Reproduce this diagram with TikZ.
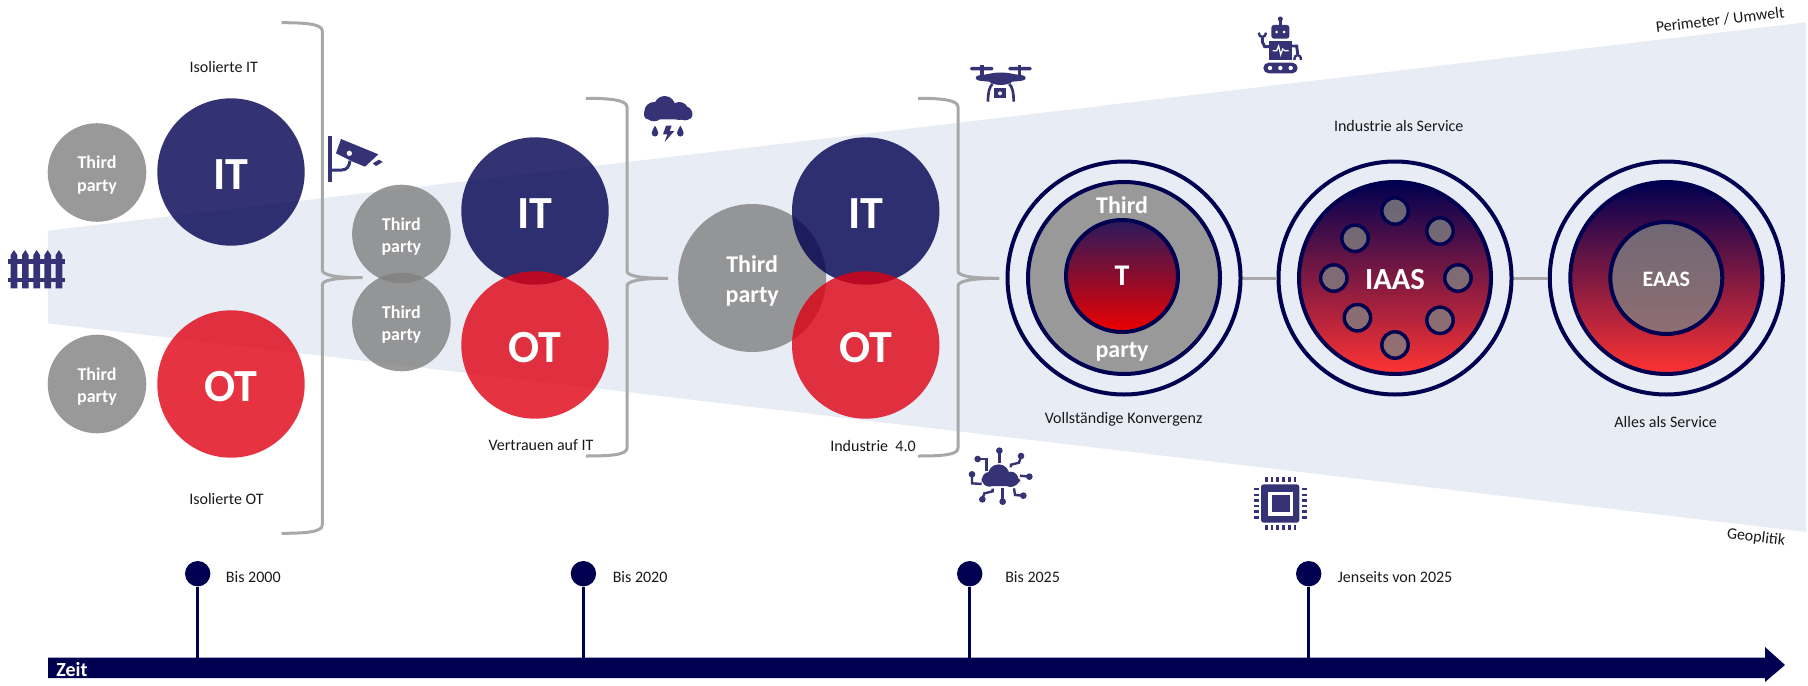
\documentclass[tikz,border=0pt]{standalone}
\usepackage{fontspec}
\setmainfont{Carlito}
\definecolor{navy}{HTML}{000050}
\definecolor{ink}{HTML}{353375}
\definecolor{itc}{HTML}{000050}
\definecolor{otc}{HTML}{DE0011}
\definecolor{tpc}{HTML}{808080}
\definecolor{wedgec}{HTML}{E8ECF5}
\definecolor{brc}{HTML}{A8A8A8}
\definecolor{gtop}{HTML}{2A1A5C}
\definecolor{gmid}{HTML}{8A0D2D}
\definecolor{gbot}{HTML}{EE0000}
\newcommand{\fs}[2]{\fontsize{#1}{#2}\selectfont}
\newcommand{\lowered}[2]{\raisebox{-#1}[\height][\depth]{#2}}
\newcommand{\twolines}[1]{\lowered{#1}{\begin{tabular}{@{}c@{}}Third\\party\end{tabular}}}
\tikzset{
  circ/.style={circle,inner sep=0pt,minimum size=2*#1*0.75pt},
  tp/.style={circ=49.3,fill=tpc,fill opacity=.8,text opacity=1,text=white,font=\bfseries\fs{13.5}{17.2}},
  itn/.style={circ=73.7,fill=itc,fill opacity=.8,text opacity=1,text=white,font=\bfseries\fs{34.5}{36}},
  otn/.style={circ=73.7,fill=otc,fill opacity=.8,text opacity=1,text=white,font=\bfseries\fs{34.5}{36}},
  ringo/.style={circ=116.5,draw=navy,line width=3pt},
  ringi/.style={circ=96,draw=navy,line width=3pt},
  grad/.style={top color=navy,bottom color=#1},
  lab/.style={inner sep=0pt,text=black!90,font=\fs{12}{14}},
  lable/.style={lab,anchor=west},
  bracestroke/.style={draw=brc,line width=2.25pt},
  linkline/.style={draw=brc,line width=2.25pt},
  stem/.style={draw=navy,line width=2.25pt},
  tick/.style={circ=12.7,fill=navy},
  iconline/.style={draw=ink,line width=1.8pt},
  dot/.style={circ=13.2,fill=tpc,fill opacity=.8,draw=navy,draw opacity=1,line width=2.6pt},
}
\begin{document}
\begin{tikzpicture}[x=0.75pt,y=-0.75pt]
\useasboundingbox (0,0) rectangle (1808,685);
% wedge
\fill[wedgec] (47.8,230.7) -- (1806,22.3) -- (1806,532) -- (47.8,323.3) -- cycle;
% braces
\draw[bracestroke] (281.5,22.7) .. controls (306,22.7) and (322.3,24) .. (322.3,31)
  -- (322.3,270) .. controls (322.3,275) and (335,277.7) .. (362.6,277.7)
  .. controls (335,277.7) and (322.3,280) .. (322.3,285)
  -- (322.3,525) .. controls (322.3,532) and (306,533.3) .. (281.5,533.3);
\draw[bracestroke] (586,98.3) .. controls (610,98.3) and (627,100) .. (627,107)
  -- (627,271) .. controls (627,276) and (640,278.3) .. (668,278.3)
  .. controls (640,278.3) and (627,281) .. (627,286)
  -- (627,448) .. controls (627,455) and (610,456) .. (586,456);
\draw[bracestroke] (918,98.3) .. controls (942,98.3) and (958,100) .. (958,107)
  -- (958,271) .. controls (958,276) and (971,278.3) .. (999.4,278.3)
  .. controls (971,278.3) and (958,281) .. (958,286)
  -- (958,448) .. controls (958,455) and (942,456) .. (918,456);
% group 1
\node[tp] (tpa) at (97,172.5) {\twolines{2.2pt}};
\node[tp] (tpb) at (97,384) {\twolines{2.2pt}};
\node[itn] (ita) at (231,172) {\lowered{1.7pt}{IT}};
\node[otn] (ota) at (231,384) {\lowered{1.7pt}{OT}};
% group 2
\node[tp] (tpc1) at (401.4,234) {\twolines{2.2pt}};
\node[tp] (tpd) at (401.4,322) {\twolines{2.2pt}};
\node[itn] (itb) at (535,211) {\lowered{1.7pt}{IT}};
\node[otn] (otb) at (535,345) {\lowered{1.7pt}{OT}};
% group 3
\node[circ=74,fill=tpc,fill opacity=.8,text opacity=1,text=white,font=\bfseries\fs{18}{22.5}] (tpe) at (752.2,278) {\twolines{2.25pt}};
\node[itn] (itc1) at (865.7,211) {\lowered{1.7pt}{IT}};
\node[otn] (otc1) at (865.7,345) {\lowered{1.7pt}{OT}};
% rings
\node[ringo] (ra) at (1124,278) {};
\node[ringi,fill=tpc!80!white] (rai) at (1124,278) {};
\node[circ=56,draw=navy,line width=3pt,top color=gtop,bottom color=gbot,middle color=gmid,text=white,font=\bfseries\fs{22.5}{24}] (rat) at (1122,276) {T};
\node[inner sep=0pt,text=white,font=\bfseries\fs{18}{20}] (rthird) at (1122,205) {Third};
\node[inner sep=0pt,text=white,font=\bfseries\fs{18}{20}] (rparty) at (1122,352) {party};
\node[ringo] (rb) at (1395,278) {};
\node[ringi,grad={red!80!white},text=white,font=\bfseries\fs{23}{25}] (rbi) at (1395,278) {\lowered{.8pt}{IAAS}};
\foreach \n/\xx/\yy in {a/1395/211,b/1440/231,c/1355/238.3,d/1333.8/278,e/1457.9/278,f/1357.4/317.7,g/1440/320.3,h/1395/345}
  \node[dot] (dot\n) at (\xx,\yy) {};
\node[ringo] (rc) at (1666.3,278) {};
\node[ringi,grad={red!80!white}] (rci) at (1666.3,278) {};
\node[circ=56,draw=navy,line width=3pt,fill=tpc,fill opacity=.8,draw opacity=1,text opacity=1,text=white,font=\bfseries\fs{16.5}{18}] (rcc) at (1666.3,278) {\lowered{.8pt}{EAAS}};
\draw[linkline] (ra.east) -- (rb.west);
\draw[linkline] (rb.east) -- (rc.west);
% labels
\node[lab] (l1) at (223.8,67) {Isolierte IT};
\node[lab] (l2) at (226.5,498.5) {Isolierte OT};
\node[lab] (l3) at (541,445) {Vertrauen auf IT};
\node[lab] (l4) at (873,446) {Industrie\ \ 4.0};
\node[lab] (l5) at (1123.6,419.5) {Vollst\"andige Konvergenz};
\node[lab] (l6) at (1398.7,126) {Industrie als Service};
\node[lab] (l7) at (1665.6,422) {Alles als Service};
\node[lab,rotate=6.8] (l8) at (1720,20) {Perimeter / Umwelt};
\node[lab,rotate=-6.8] (l9) at (1756,538) {Geoplitik};
% time arrow
\fill[navy] (48,657.7) -- (1765,657.7) -- (1765,647) -- (1785,665) -- (1765,682) -- (1765,678) -- (48,678) -- cycle;
\node[inner sep=0pt,anchor=base west,text=white,font=\bfseries\fs{15}{16}] (zeit) at (56,676.5) {Zeit};
\foreach \n/\xx in {a/197.7,b/583.4,c/969.7,d/1308.7}{
  \node[tick] (tick\n) at (\xx,573.7) {};
  \coordinate (foot\n) at (\xx,658);
  \draw[stem] (tick\n) -- (foot\n);
}
\node[lable] (t1) at (225.7,577) {Bis 2000};
\node[lable] (t2) at (612.5,577) {Bis 2020};
\node[lable] (t3) at (1005,577) {Bis 2025};
\node[lable] (t4) at (1337.5,577) {Jenseits von 2025};
% fence
\begin{scope}[shift={(0,235)},x=0.25pt,y=-0.25pt]
\foreach \xx in {42,76,110,143,177}
  \fill[ink] (\xx-10,160) -- (\xx-10,60) -- (\xx,45) -- (\xx+10,60) -- (\xx+10,160) -- cycle;
\fill[ink] (25,72) rectangle (195,86);
\fill[ink] (25,128) rectangle (195,142);
\end{scope}
% camera
\begin{scope}[shift={(310,120)},x=0.25pt,y=-0.25pt]
\fill[ink] (54,47) rectangle (66,187);
\draw[ink,line width=2.25pt] (66,150) -- (95,150) .. controls (110,150) and (118,140) .. (120,122);
\fill[ink] (93,57) -- (205,103) -- (165,140) -- (128,125) -- (78,100) -- cycle;
\fill[white] (118,100) circle (8);
\fill[ink] (188,130) -- (207,119) -- (218,126) -- (198,138) -- cycle;
\end{scope}
% rain cloud
\begin{scope}[shift={(630,85)},x=0.25pt,y=-0.25pt]
\fill[ink,rounded corners=3pt] (42,72) rectangle (187,103);
\fill[ink] (72,80) circle (29);
\fill[ink] (104,65) circle (32);
\fill[ink] (148,78) circle (27);
\fill[ink] (165,85) circle (21);
\foreach \xx in {75,151}
  \fill[ink] (\xx,122) .. controls (\xx+3,130) and (\xx+10,136) .. (\xx+10,144) .. controls (\xx+10,158) and (\xx-10,158) .. (\xx-10,144) .. controls (\xx-10,136) and (\xx-3,130) .. (\xx,122) -- cycle;
\fill[ink] (108,122) -- (125,122) -- (119,138) -- (133,138) -- (104,171) -- (112,148) -- (99,148) -- cycle;
\end{scope}
% drone
\begin{scope}[shift={(955,50)},x=0.25pt,y=-0.25pt]
\fill[ink,rounded corners=1pt] (45,51) rectangle (115,61);
\fill[ink,rounded corners=1pt] (160,51) rectangle (230,61);
\fill[ink] (75,46) rectangle (86,78);
\fill[ink] (188,46) rectangle (199,78);
\fill[ink] (62,84) .. controls (62,74) and (80,76) .. (100,72) .. controls (125,66) and (150,66) .. (175,72) .. controls (195,76) and (212,74) .. (212,84) .. controls (212,94) and (190,93) .. (172,95) .. controls (160,108) and (113,108) .. (103,95) .. controls (85,93) and (62,94) .. (62,84) -- cycle;
\draw[ink,line width=2pt] (112,102) .. controls (102,112) and (99,130) .. (99,155);
\draw[ink,line width=2pt] (163,102) .. controls (173,112) and (176,130) .. (176,155);
\fill[ink] (118,114) rectangle (152,145);
\fill[white] (135,130) circle (6);
\end{scope}
% robot
\begin{scope}[shift={(1230,0)},x=0.25pt,y=-0.25pt]
\fill[ink] (151,57) circle (7.5);
\fill[ink] (147,57) rectangle (155,78);
\fill[ink,rounded corners=2pt] (124,75) rectangle (178,116);
\fill[white] (140,96) circle (4.5);
\fill[white] (162,96) circle (4.5);
\fill[ink] (118,122) rectangle (186,181);
\draw[white,line width=.9pt] (128,152) -- (140,152) -- (146,138) -- (152,164) -- (158,147) -- (164,152) -- (176,152);
\fill[ink,rounded corners=4pt] (100,188) rectangle (203,220);
\foreach \xx in {120,151,182} \fill[white] (\xx,204) circle (6.5);
\draw[ink,line width=2.2pt] (118,140) -- (104,140) -- (97,125) -- (97,112);
\draw[ink,line width=1.8pt] (86,98) .. controls (86,115) and (108,115) .. (108,98);
\draw[ink,line width=2.2pt] (186,138) -- (200,138) -- (203,162);
\draw[ink,line width=1.8pt] (193,180) .. controls (193,160) and (213,160) .. (213,180);
\end{scope}
% iot cloud
\begin{scope}[shift={(940,430)},x=0.25pt,y=-0.25pt]
\fill[ink,rounded corners=6pt] (125,135) rectangle (240,168);
\fill[ink] (148,148) circle (22);
\fill[ink] (176,135) circle (32);
\fill[ink] (212,148) circle (23);
\draw[iconline] (178,62) -- (178,98);
\draw[iconline] (113,87) -- (140,87) -- (140,122);
\draw[iconline] (243,78) -- (237,98) -- (213,104) -- (212,112);
\draw[iconline] (96,133) -- (96,160) -- (125,162);
\draw[iconline] (268,140) -- (240,137);
\draw[iconline] (127,208) -- (133,190) -- (158,184) -- (158,176);
\draw[iconline] (188,215) -- (188,175);
\draw[iconline] (250,197) -- (225,195) -- (222,175);
\foreach \xx/\yy in {178/62,113/87,243/78,96/133,268/140,127/208,188/215,250/197}
  \fill[ink] (\xx,\yy) circle (10);
\end{scope}
% chip
\begin{scope}[shift={(1240,465)},x=0.25pt,y=-0.25pt]
\fill[ink,rounded corners=2pt] (63,58) rectangle (178,173);
\fill[white] (85,80) rectangle (158,152);
\fill[ink] (95,90) rectangle (150,142);
\foreach \xx in {75,92,109,126,144,161}{
  \fill[ink] (\xx,37) rectangle (\xx+8,51);
  \fill[ink] (\xx,181) rectangle (\xx+8,195);
}
\foreach \yy in {68,86,103,119,136,153}{
  \fill[ink] (42,\yy) rectangle (58,\yy+8);
  \fill[ink] (186,\yy) rectangle (202,\yy+8);
}
\end{scope}
\end{tikzpicture}
\end{document}
